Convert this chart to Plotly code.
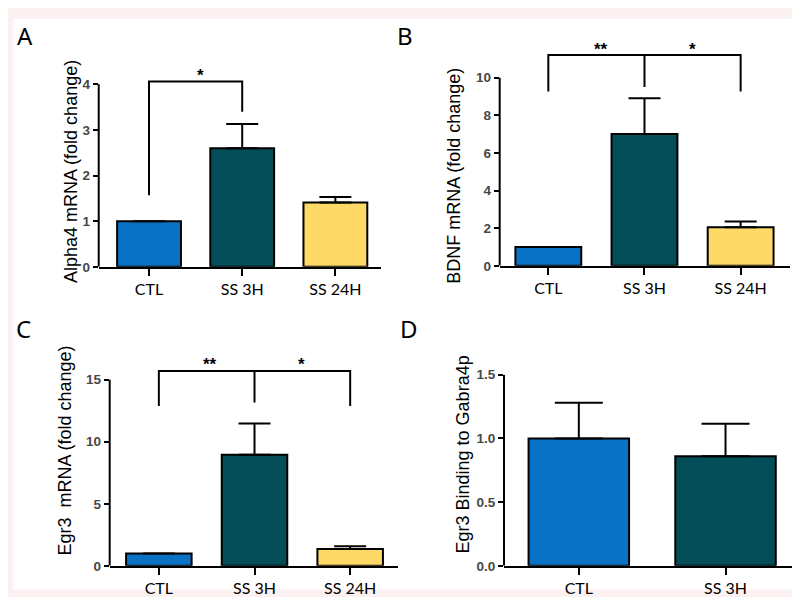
import plotly.graph_objects as go

# ---------------- data ----------------
cats3 = ["CTL", "SS 3H", "SS 24H"]
cats2 = ["CTL", "SS 3H"]

alpha4 = [1.0, 2.6, 1.41]
alpha4_err = [0.0, 0.53, 0.12]

bdnf = [1.0, 7.0, 2.05]
bdnf_err = [0.0, 1.9, 0.3]

egr3 = [1.0, 8.96, 1.36]
egr3_err = [0.0, 2.5, 0.21]

binding = [1.0, 0.86]
binding_err = [0.28, 0.255]

# significance brackets (data units)
alpha4_br_y = [1.57, 4.06, 4.06, 3.40]
bdnf_br_y = [9.27, 11.2, 11.2, 9.27]
bdnf_mid_y = [11.2, 9.5]
egr3_br_y = [12.88, 15.7, 15.7, 12.88]
egr3_mid_y = [15.7, 13.17]

alpha4_ticks = [0, 1, 2, 3, 4]
bdnf_ticks = [0, 2, 4, 6, 8, 10]
egr3_ticks = [0, 5, 10, 15]
binding_ticks = [0.0, 0.5, 1.0, 1.5]
binding_ticktext = ["0.0", "0.5", "1.0", "1.5"]

colors = ["#0A72C4", "#044E59", "#FFD966"]

# ---------------- figure ----------------
fig = go.Figure()

panels = [
    dict(ax="", vals=alpha4, err=alpha4_err, cats=cats3, cap=16,
         xdom=[0.1134, 0.4663], ydom=[0.5673, 0.9201], xr=[-0.54, 2.49], yr=[0, 4.5],
         ticks=alpha4_ticks, ticktext=[str(t) for t in alpha4_ticks]),
    dict(ax="2", vals=bdnf, err=bdnf_err, cats=cats3, cap=16,
         xdom=[0.6146, 0.9771], ydom=[0.569, 0.9667], xr=[-0.506, 2.51], yr=[0, 12.3],
         ticks=bdnf_ticks, ticktext=[str(t) for t in bdnf_ticks]),
    dict(ax="3", vals=egr3, err=egr3_err, cats=cats3, cap=16,
         xdom=[0.1271, 0.4875], ydom=[0.0536, 0.4224], xr=[-0.514, 2.50], yr=[0, 17.3],
         ticks=egr3_ticks, ticktext=[str(t) for t in egr3_ticks]),
    dict(ax="4", vals=binding, err=binding_err, cats=cats2, cap=24,
         xdom=[0.62, 0.9875], ydom=[0.0536, 0.3819], xr=[-0.51, 1.494], yr=[0, 1.5],
         ticks=binding_ticks, ticktext=binding_ticktext),
]

shapes = [
    dict(type="rect", xref="paper", yref="paper", x0=0.006, x1=0.991, y0=0.013, y1=0.993,
         fillcolor="white", line=dict(width=0), layer="below"),
]

for p in panels:
    n = len(p["cats"])
    pos = list(range(n))
    xa = "x" + p["ax"]
    ya = "y" + p["ax"]
    fig.add_trace(go.Bar(
        x=pos, y=p["vals"], width=0.685,
        marker=dict(color=colors[:n], line=dict(color="black", width=2)),
        error_y=dict(type="data", array=p["err"], arrayminus=[0] * n, symmetric=False,
                     color="black", thickness=2, width=p["cap"]),
        xaxis=xa, yaxis=ya, showlegend=False, hoverinfo="skip",
    ))
    lay_x = dict(domain=p["xdom"], anchor=ya, range=p["xr"], tickvals=pos, ticktext=p["cats"],
                 showline=True, linecolor="black", linewidth=2, ticks="outside", ticklen=7,
                 tickwidth=2, tickcolor="black", showgrid=False, zeroline=False,
                 tickfont=dict(family="Lato", size=16, color="black"))
    lay_y = dict(domain=p["ydom"], anchor=xa, range=p["yr"], tickvals=p["ticks"],
                 ticktext=p["ticktext"], showline=False, ticks="outside", ticklen=5,
                 tickwidth=2, tickcolor="black", showgrid=False, zeroline=False,
                 tickfont=dict(family="Liberation Sans", size=13.5, color="#474747", weight="bold"))
    fig.update_layout(**{"xaxis" + p["ax"]: lay_x, "yaxis" + p["ax"]: lay_y})
    shapes.append(dict(type="line", xref=xa + " domain", yref=ya, x0=0, x1=0,
                       y0=p["ticks"][0], y1=p["ticks"][-1], line=dict(color="black", width=2)))

line_style = dict(color="black", width=2)
# Panel A bracket
fig.add_trace(go.Scatter(x=[0, 0, 1, 1], y=alpha4_br_y, mode="lines", line=line_style,
                         xaxis="x", yaxis="y", showlegend=False, hoverinfo="skip"))
# Panel B brackets
fig.add_trace(go.Scatter(x=[0, 0, 2, 2], y=bdnf_br_y, mode="lines", line=line_style,
                         xaxis="x2", yaxis="y2", showlegend=False, hoverinfo="skip"))
fig.add_trace(go.Scatter(x=[1, 1], y=bdnf_mid_y, mode="lines", line=line_style,
                         xaxis="x2", yaxis="y2", showlegend=False, hoverinfo="skip"))
# Panel C brackets
fig.add_trace(go.Scatter(x=[0, 0, 2, 2], y=egr3_br_y, mode="lines", line=line_style,
                         xaxis="x3", yaxis="y3", showlegend=False, hoverinfo="skip"))
fig.add_trace(go.Scatter(x=[1, 1], y=egr3_mid_y, mode="lines", line=line_style,
                         xaxis="x3", yaxis="y3", showlegend=False, hoverinfo="skip"))

star_font = dict(family="Liberation Sans", size=17, color="black", weight="bold")
annotations = [
    dict(text="*", x=0.55, y=4.2, xref="x", yref="y", showarrow=False, font=star_font),
    dict(text="**", x=0.55, y=11.5, xref="x2", yref="y2", showarrow=False, font=star_font),
    dict(text="*", x=1.5, y=11.5, xref="x2", yref="y2", showarrow=False, font=star_font),
    dict(text="**", x=0.53, y=16.2, xref="x3", yref="y3", showarrow=False, font=star_font),
    dict(text="*", x=1.49, y=16.2, xref="x3", yref="y3", showarrow=False, font=star_font),
]

title_font = dict(family="Liberation Sans", size=18, color="black")
ytitles = [
    ("Alpha4 mRNA (fold change)", 63, 161),
    ("BDNF mRNA (fold change)", 446, 165),
    ("Egr3\u00a0 mRNA (fold change)", 57, 446.7),
    ("Egr3 Binding to Gabra4p", 455, 450.8),
]
for t, px, py in ytitles:
    annotations.append(dict(text=t, x=px / 800, y=1 - py / 597, xref="paper", yref="paper",
                            textangle=-90, showarrow=False, xanchor="center", yanchor="middle",
                            font=title_font))

letter_font = dict(family="Noto Sans", size=24, color="black")
for t, px, py in [("A", 16.5, 21), ("B", 397, 21), ("C", 15, 321.5), ("D", 401, 321.5)]:
    annotations.append(dict(text=t, x=px / 800, y=1 - py / 597, xref="paper", yref="paper",
                            showarrow=False, xanchor="center", yanchor="middle", font=letter_font))

fig.update_layout(
    width=800, height=597, autosize=False,
    margin=dict(l=0, r=0, t=0, b=0),
    paper_bgcolor="#FBF1F1", plot_bgcolor="rgba(0,0,0,0)",
    shapes=shapes, annotations=annotations, bargap=0.3,
)

fig.write_html("out.html")
